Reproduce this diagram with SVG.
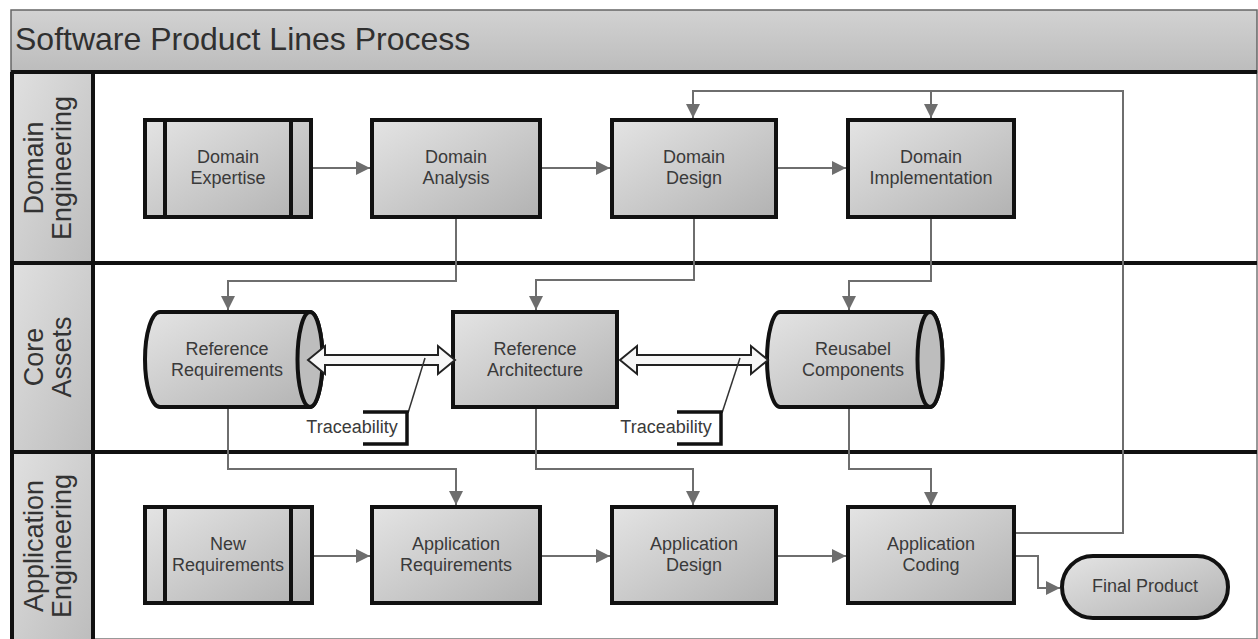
<svg xmlns="http://www.w3.org/2000/svg" width="1258" height="639" viewBox="0 0 1258 639">
<defs>
<linearGradient id="gNode" x1="0" y1="0" x2="1" y2="1">
<stop offset="0" stop-color="#e4e4e4"/>
<stop offset="1" stop-color="#b2b2b2"/>
</linearGradient>
<linearGradient id="gTitle" x1="0" y1="0" x2="0" y2="1">
<stop offset="0" stop-color="#d2d2d2"/>
<stop offset="1" stop-color="#bcbcbc"/>
</linearGradient>
<linearGradient id="gLane" x1="0" y1="0" x2="1" y2="1">
<stop offset="0" stop-color="#e0e0e0"/>
<stop offset="1" stop-color="#bdbdbd"/>
</linearGradient>
<marker id="ah" markerUnits="userSpaceOnUse" markerWidth="15" markerHeight="15" refX="14" refY="7" orient="auto">
<path d="M0,0 L14,7 L0,14 Z" fill="#6e6e6e"/>
</marker>
<style>
.node{fill:url(#gNode);stroke:#111;stroke-width:4}
.bar{fill:none;stroke:#111;stroke-width:4}
.end{fill:#bdbdbd;stroke:#111;stroke-width:4}
.t{font-family:"Liberation Sans",Arial,sans-serif;font-size:18px;fill:#3a3a3a;text-anchor:middle}
.lane{font-family:"Liberation Sans",Arial,sans-serif;font-size:27px;fill:#333;text-anchor:middle}
.conn{fill:none;stroke:#6e6e6e;stroke-width:2}
.div{stroke:#111;stroke-width:4}
.dbl{fill:#f7f7f7;stroke:#222;stroke-width:2;stroke-linejoin:miter}
.lead{fill:none;stroke:#333;stroke-width:1.5}
.brk{fill:none;stroke:#111;stroke-width:3.5}
</style>
</defs>
<rect x="0" y="0" width="1258" height="639" fill="#ffffff"/>
<g id="pool">
<rect x="11" y="10" width="1246" height="62" fill="url(#gTitle)" stroke="#666" stroke-width="1.5"/>
<text x="15" y="50" font-family="'Liberation Sans',Arial,sans-serif" font-size="32" fill="#303030">Software Product Lines Process</text>
<rect x="93" y="72" width="1164" height="567" fill="#ffffff" stroke="#777" stroke-width="1.5"/>
</g>
<g id="lane-domain">
<rect x="12" y="72" width="81" height="191" fill="url(#gLane)"/>
<text class="lane" transform="rotate(-90 43 168)" x="43" y="168">Domain</text>
<text class="lane" transform="rotate(-90 71 168)" x="71" y="168">Engineering</text>
</g>
<g id="lane-core">
<rect x="12" y="263" width="81" height="189" fill="url(#gLane)"/>
<text class="lane" transform="rotate(-90 43 357)" x="43" y="357">Core</text>
<text class="lane" transform="rotate(-90 71 357)" x="71" y="357">Assets</text>
</g>
<g id="lane-app">
<rect x="12" y="452" width="81" height="187" fill="url(#gLane)"/>
<text class="lane" transform="rotate(-90 43 546)" x="43" y="546">Application</text>
<text class="lane" transform="rotate(-90 71 546)" x="71" y="546">Engineering</text>
</g>
<g id="lane-lines">
<line class="div" x1="11" y1="72" x2="1257" y2="72"/>
<line class="div" x1="11" y1="263" x2="1257" y2="263"/>
<line class="div" x1="11" y1="452" x2="1257" y2="452"/>
<line class="div" x1="12" y1="72" x2="12" y2="639"/>
<line class="div" x1="93" y1="72" x2="93" y2="639"/>
</g>
<g id="connectors">
<line class="conn" x1="311" y1="168" x2="370" y2="168" marker-end="url(#ah)"/>
<line class="conn" x1="540" y1="168" x2="610" y2="168" marker-end="url(#ah)"/>
<line class="conn" x1="776" y1="168" x2="846" y2="168" marker-end="url(#ah)"/>
<path class="conn" d="M456,217 V281 H228 V310" marker-end="url(#ah)"/>
<path class="conn" d="M694,217 V280 H536 V310" marker-end="url(#ah)"/>
<path class="conn" d="M931,217 V281 H849 V310" marker-end="url(#ah)"/>
<path class="conn" d="M228,407 V469 H456 V505" marker-end="url(#ah)"/>
<path class="conn" d="M536,407 V469 H693 V505" marker-end="url(#ah)"/>
<path class="conn" d="M849,407 V469 H931 V506" marker-end="url(#ah)"/>
<line class="conn" x1="312" y1="556" x2="370" y2="556" marker-end="url(#ah)"/>
<line class="conn" x1="540" y1="556" x2="610" y2="556" marker-end="url(#ah)"/>
<line class="conn" x1="776" y1="556" x2="846" y2="556" marker-end="url(#ah)"/>
<path class="conn" d="M1013,533 H1123 V91 H693 V118" marker-end="url(#ah)"/>
<path class="conn" d="M931,91 V118" marker-end="url(#ah)"/>
<path class="conn" d="M1013,556 H1038 V588 H1060" marker-end="url(#ah)"/>
</g>
<g id="domain-expertise">
<rect class="node" x="145" y="120" width="166" height="97"/>
<line class="bar" x1="165" y1="120" x2="165" y2="217"/>
<line class="bar" x1="291" y1="120" x2="291" y2="217"/>
<text class="t" x="228" y="163">Domain</text>
<text class="t" x="228" y="184">Expertise</text>
</g>
<g id="domain-analysis">
<rect class="node" x="372" y="120" width="168" height="97"/>
<text class="t" x="456" y="163">Domain</text>
<text class="t" x="456" y="184">Analysis</text>
</g>
<g id="domain-design">
<rect class="node" x="612" y="120" width="164" height="97"/>
<text class="t" x="694" y="163">Domain</text>
<text class="t" x="694" y="184">Design</text>
</g>
<g id="domain-implementation">
<rect class="node" x="848" y="120" width="166" height="97"/>
<text class="t" x="931" y="163">Domain</text>
<text class="t" x="931" y="184">Implementation</text>
</g>
<g id="reference-requirements">
<path class="node" d="M160,312 H310 A12.5,47.5 0 0 1 310,407 H160 A15,47.5 0 0 1 160,312 Z"/>
<ellipse class="end" cx="310" cy="359.5" rx="12.5" ry="47.5"/>
<text class="t" x="227" y="355">Reference</text>
<text class="t" x="227" y="376">Requirements</text>
</g>
<g id="reference-architecture">
<rect class="node" x="453" y="312" width="164" height="95"/>
<text class="t" x="535" y="355">Reference</text>
<text class="t" x="535" y="376">Architecture</text>
</g>
<g id="reusabel-components">
<path class="node" d="M780,312 H930 A12.5,47.5 0 0 1 930,407 H780 A13,47.5 0 0 1 780,312 Z"/>
<ellipse class="end" cx="930" cy="359.5" rx="12.5" ry="47.5"/>
<text class="t" x="853" y="355">Reusabel</text>
<text class="t" x="853" y="376">Components</text>
</g>
<g id="traceability-links">
<polygon class="dbl" points="308,360 325,346 325,355 438,355 438,346 455,360 438,374 438,365 325,365 325,374"/>
<polygon class="dbl" points="620,360 637,346 637,355 751,355 751,346 768,360 751,374 751,365 637,365 637,374"/>
</g>
<g id="traceability-1">
<line class="lead" x1="425" y1="358" x2="408" y2="413"/>
<path class="brk" d="M363,412 H407 V444 H363"/>
<text class="t" x="352" y="433">Traceability</text>
</g>
<g id="traceability-2">
<line class="lead" x1="740" y1="358" x2="722" y2="413"/>
<path class="brk" d="M677,412 H721 V444 H677"/>
<text class="t" x="666" y="433">Traceability</text>
</g>
<g id="new-requirements">
<rect class="node" x="145" y="507" width="167" height="96"/>
<line class="bar" x1="165" y1="507" x2="165" y2="603"/>
<line class="bar" x1="291" y1="507" x2="291" y2="603"/>
<text class="t" x="228" y="550">New</text>
<text class="t" x="228" y="571">Requirements</text>
</g>
<g id="application-requirements">
<rect class="node" x="372" y="507" width="168" height="96"/>
<text class="t" x="456" y="550">Application</text>
<text class="t" x="456" y="571">Requirements</text>
</g>
<g id="application-design">
<rect class="node" x="612" y="507" width="164" height="96"/>
<text class="t" x="694" y="550">Application</text>
<text class="t" x="694" y="571">Design</text>
</g>
<g id="application-coding">
<rect class="node" x="848" y="507" width="166" height="96"/>
<text class="t" x="931" y="550">Application</text>
<text class="t" x="931" y="571">Coding</text>
</g>
<g id="final-product">
<rect class="node" x="1062" y="556" width="166" height="62" rx="31" ry="31"/>
<text class="t" x="1145" y="592">Final Product</text>
</g>
</svg>
